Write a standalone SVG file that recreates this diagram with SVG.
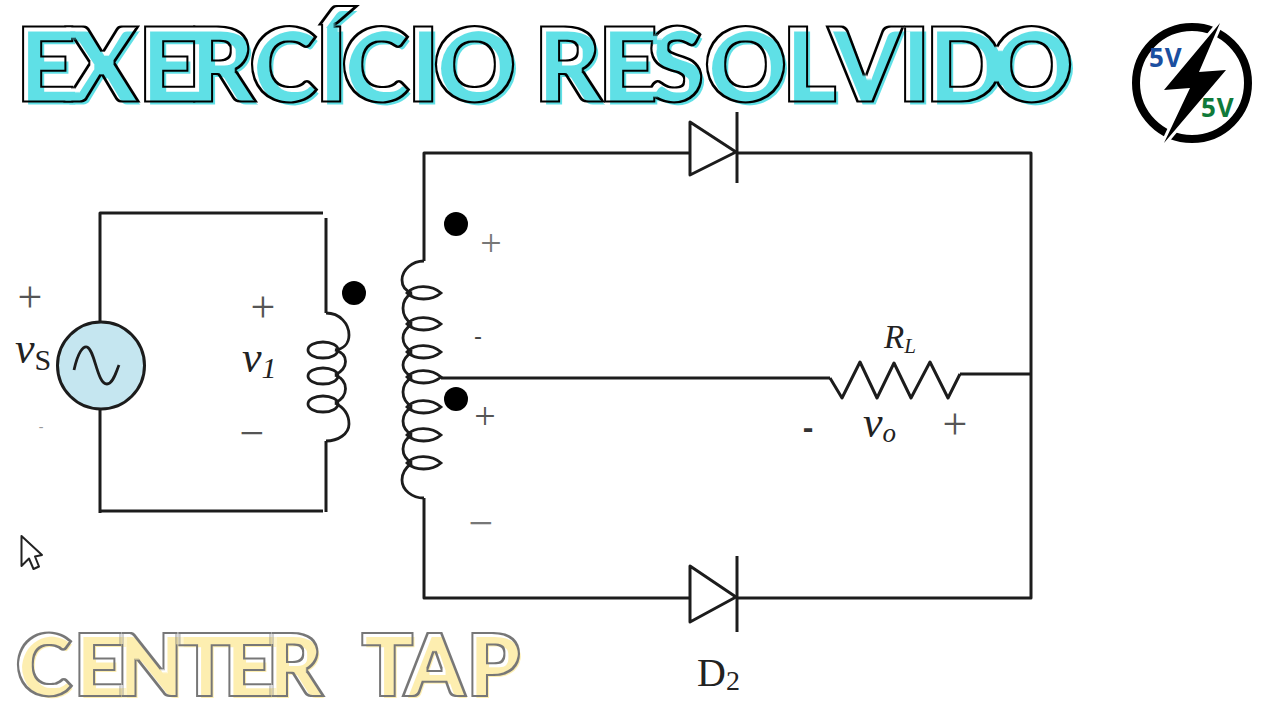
<svg xmlns="http://www.w3.org/2000/svg" width="1280" height="720" viewBox="0 0 1280 720">
<style>
.w{fill:none;stroke:#1c1c1c;stroke-width:3;stroke-linejoin:round;stroke-linecap:butt}
.c{fill:none;stroke:#1c1c1c;stroke-width:2.8}
.dot{fill:#000}
.title{font-family:"Lato","Liberation Sans",sans-serif;font-weight:900;font-size:100px;fill:#000;stroke:#000;stroke-width:5;stroke-linejoin:miter;filter:url(#fxTitle)}
.sub{font-family:"Lato","Liberation Sans",sans-serif;font-weight:900;font-size:84px;fill:#000;stroke:#000;stroke-width:4;stroke-linejoin:miter;filter:url(#fxSub)}
.s{font-family:"Liberation Serif",serif;fill:#222}
.i{font-style:italic}
.g{font-family:"Liberation Serif",serif;fill:#555;font-size:44px;text-anchor:middle}
.v{font-family:"Open Sans","Liberation Sans",sans-serif;font-weight:700;font-size:26px;letter-spacing:1px}
</style>
<defs>
<filter id="fxTitle" x="-5%" y="-20%" width="110%" height="140%" color-interpolation-filters="sRGB">
<feMorphology in="SourceAlpha" operator="erode" radius="2" result="inner"/>
<feComposite in="SourceAlpha" in2="inner" operator="out" result="ring"/>
<feFlood flood-color="#000"/><feComposite in2="ring" operator="in" result="black"/>
<feOffset in="inner" dx="4" dy="4" result="off"/>
<feFlood flood-color="#5fe0e6"/><feComposite in2="off" operator="in" result="teal"/>
<feMerge><feMergeNode in="teal"/><feMergeNode in="black"/></feMerge>
</filter>
<filter id="fxSub" x="-5%" y="-20%" width="110%" height="140%" color-interpolation-filters="sRGB">
<feMorphology in="SourceAlpha" operator="erode" radius="1.600" result="inner"/>
<feComposite in="SourceAlpha" in2="inner" operator="out" result="ring"/>
<feFlood flood-color="#777"/><feComposite in2="ring" operator="in" result="gray"/>
<feOffset in="inner" dx="3" dy="3" result="off"/>
<feFlood flood-color="#fdeeb0"/><feComposite in2="off" operator="in" result="yel"/>
<feMerge><feMergeNode in="yel"/><feMergeNode in="gray"/></feMerge>
</filter>
</defs>
<rect width="1280" height="720" fill="#fff"/>
<text id="title" class="title" y="100" x="17 68 139 188 250 316 342 408 434 520 535 599 648 705 783 830 899 926 991">EXERCÍCIO RESOLVIDO</text>
<text id="subtitle" class="sub" y="695" x="16 74 117 179 224 267 320 362 405 467">CENTER TAP</text>
<g id="logo">
<circle cx="1192" cy="83" r="56" fill="none" stroke="#000" stroke-width="8"/>
<polygon points="1220,23 1164,90 1190,88 1164,143 1226,70 1199,72" fill="#000" stroke="#fff" stroke-width="6" paint-order="stroke" stroke-linejoin="miter"/>
<text class="v" x="1149" y="67" fill="#1b4fa0">5V</text>
<text class="v" x="1201" y="117" fill="#0f7a3a">5V</text>
</g>
<g id="connectors">
<path class="w" d="M100 321V213H323"/>
<path class="w" d="M100 410V513M100 511H323"/>
<path class="w" d="M326 218V313M326 441V512"/>
<path class="w" d="M424 261V153H690M736 153H1031V598H736M690 598H424V498"/>
<path class="w" d="M441 378H830M960 374H1031"/>
</g>
<g id="source">
<circle cx="101" cy="365.500" r="43.500" fill="#c5e6f0" stroke="#1c1c1c" stroke-width="3"/>
<path class="c" d="M74 370C78 352 83 346 87 347C95 350 97 384 107 384C113 384 116 372 119 365"/>
</g>
<g id="primary">
<path class="c" d="M326 313C340 313 349 324 349 335C349 344 343 349 335 350M335 350C349 354 349 368 335 375M335 375C349 381 349 396 335 403M335 403C345 408 349 416 349 424C349 434 338 441 326 441"/>
<ellipse class="c" cx="323" cy="350" rx="15" ry="8"/>
<ellipse class="c" cx="323" cy="376" rx="15" ry="8"/>
<ellipse class="c" cx="323" cy="404" rx="15" ry="8"/>
</g>
<circle id="dot1" class="dot" cx="354" cy="293" r="12"/>
<g id="secondary">
<path class="c" d="M424 261C412 261 402 270 402 280C402 287 406 291 412 293M412 293C400 300 400 316 412 324M412 324C400 332 400 344 412 352M412 352C400 360 400 370 412 377M412 377C400 385 400 399 412 407M412 407C400 414 400 428 412 435M412 435C400 442 400 456 412 463M412 463C405 468 402 475 402 480C402 490 412 498 424 498"/>
<path id="leaf" class="c" d="M407 293C415 284 432 285 441 293C432 301 415 301 407 293ZM407 324C415 315 432 316 441 324C432 332 415 332 407 324ZM407 352C415 343 432 344 441 352C432 360 415 360 407 352ZM407 377C415 368 432 369 441 377C432 385 415 385 407 377ZM407 407C415 398 432 399 441 407C432 415 415 415 407 407ZM407 435C415 426 432 427 441 435C432 443 415 443 407 435ZM407 463C415 454 432 455 441 463C432 471 415 471 407 463Z"/>
</g>
<circle id="dot2" class="dot" cx="456" cy="224" r="12"/>
<circle id="dot3" class="dot" cx="456" cy="399" r="12"/>
<g id="D1">
<polygon class="w" points="690,122 690,175 736,152"/>
<path class="w" d="M737 112V183"/>
</g>
<g id="D2">
<polygon class="w" points="690,566 690,622 736,597"/>
<path class="w" d="M737 556V632"/>
<text class="s" x="697" y="686" font-size="40">D<tspan font-size="28" dy="4">2</tspan></text>
</g>
<g id="RL">
<path class="w" d="M830 378L842 398L860 362L877 398L894 363L911 398L930 362L948 398L960 374"/>
<text class="s i" x="884" y="348" font-size="33">R<tspan font-size="21" dy="5">L</tspan></text>
<text class="s i" x="863" y="437" font-size="44">v<tspan font-size="27" dy="5">o</tspan></text>
<text class="g" x="808" y="438" style="font-family:'Liberation Sans',sans-serif;font-size:32px;font-weight:700;fill:#333">-</text>
<text class="g" x="955" y="439">+</text>
</g>
<g id="labels">
<text class="g" x="30" y="312">+</text>
<text class="s i" x="15" y="363" font-size="44">v<tspan class="s" font-style="normal" font-size="30" dy="7">S</tspan></text>
<text class="g" x="41" y="431" style="font-size:14px;fill:#999">-</text>
<text class="g" x="263" y="322">+</text>
<text class="s i" x="242" y="372" font-size="44">v<tspan font-size="30" dy="6">1</tspan></text>
<text class="g" x="252" y="448">−</text>
<text class="g" x="491" y="256" style="font-size:38px;fill:#777">+</text>
<text class="g" x="478" y="344" style="font-family:'Liberation Sans',sans-serif;font-size:24px;fill:#444">-</text>
<text class="g" x="485" y="429" style="font-size:38px">+</text>
<text class="g" x="481" y="538" style="fill:#777">−</text>
</g>
<path id="cursor" d="M21.500 536V566L29 558.500L33.500 569L39 566.500L35 556.500L42 555Z" fill="#fff" stroke="#222" stroke-width="2" stroke-linejoin="round"/>
</svg>
